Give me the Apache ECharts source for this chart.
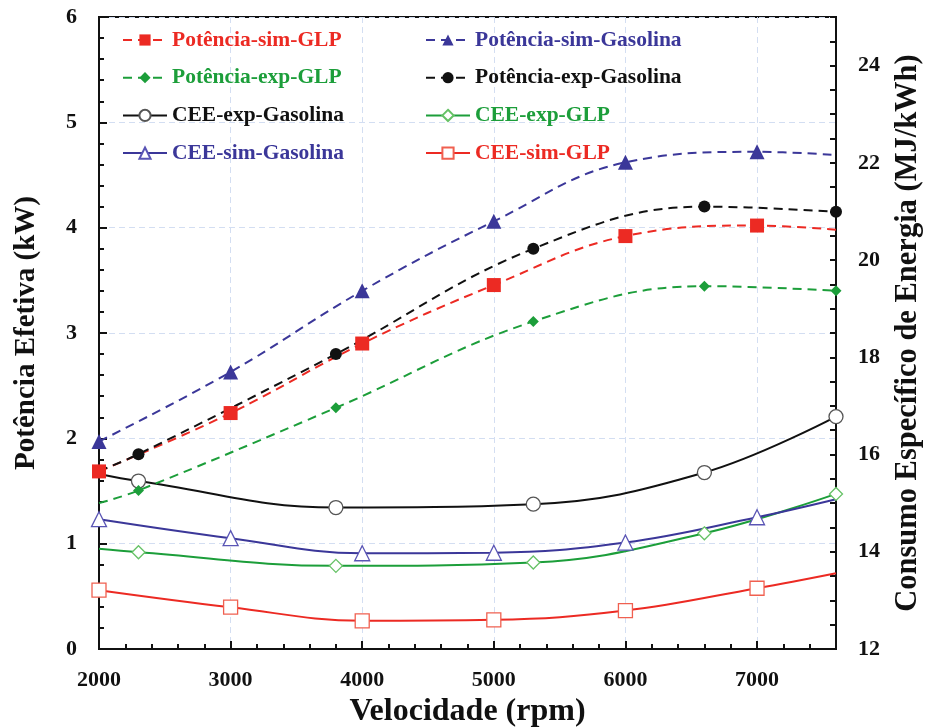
<!DOCTYPE html>
<html>
<head>
<meta charset="utf-8">
<script src="https://cdn.jsdelivr.net/npm/echarts@6/dist/echarts.min.js"></script>
<style>
html,body{margin:0;padding:0;background:#fff;}
#chart{width:926px;height:727px;}
</style>
</head>
<body>
<div id="chart"></div>
<script>
// ---- data ----
const rpmSim = [2000, 3000, 4000, 5000, 6000, 7000, 7600];
const rpmExp = [2000, 2300, 3800, 5300, 6600, 7600];

const potSimGLP = [1.686, 2.24, 2.90, 3.455, 3.92, 4.02, 3.98];
const potSimGasolina = [1.97, 2.63, 3.40, 4.06, 4.62, 4.72, 4.69];
const potExpGLP = [1.385, 1.505, 2.29, 3.11, 3.445, 3.40];
const potExpGasolina = [1.69, 1.85, 2.80, 3.80, 4.20, 4.15];

const ceeExpGasolina = [15.60, 15.455, 14.91, 14.98, 15.63, 16.78];
const ceeExpGLP = [14.06, 13.99, 13.71, 13.78, 14.38, 15.19];
const ceeSimGasolina = [14.67, 14.28, 13.97, 13.98, 14.19, 14.71, 15.08];
const ceeSimGLP = [13.21, 12.86, 12.58, 12.60, 12.79, 13.25, 13.56];

const xTicksMajor = [2000, 3000, 4000, 5000, 6000, 7000];
const leftTicks = [0, 1, 2, 3, 4, 5, 6];
const rightTicks = [12, 14, 16, 18, 20, 22, 24];

// ---- styles ----
const RED = '#ec2a23', BLUE = '#3b3799', GREEN = '#1c9e3a', BLACK = '#111111';
const FONT = '"Liberation Serif", "Times New Roman", serif';

// sim series: last point is curve extension without marker
// exp series: first point is curve start without marker
function build(xs, ys, noMarkIdx) {
  return xs.map((x, i) => {
    const d = { value: [x, ys[i]] };
    if (i === noMarkIdx) { d.symbol = 'none'; }
    return d;
  });
}

function mk(name, xs, ys, noMarkIdx, yIdx, color, dashed, symbol, size, fill, border) {
  return {
    name: name,
    type: 'line',
    xAxisIndex: 0,
    yAxisIndex: yIdx,
    smooth: 0.4,
    data: build(xs, ys, noMarkIdx),
    symbol: symbol,
    symbolSize: size,
    showAllSymbol: true,
    lineStyle: { color: color, width: 2, type: dashed ? [9, 6] : 'solid' },
    itemStyle: { color: fill, borderColor: border, borderWidth: fill === '#ffffff' ? 1.3 : 0 },
    z: dashed ? 3 : 2,
    emphasis: { disabled: true },
    animation: false
  };
}

const series = [
  mk('Potência-sim-GLP', rpmSim, potSimGLP, 6, 0, RED, true, 'rect', 14, RED, RED),
  mk('Potência-sim-Gasolina', rpmSim, potSimGasolina, 6, 0, BLUE, true, 'triangle', 15, BLUE, BLUE),
  mk('Potência-exp-GLP', rpmExp, potExpGLP, 0, 0, GREEN, true, 'diamond', 11, GREEN, GREEN),
  mk('Potência-exp-Gasolina', rpmExp, potExpGasolina, 0, 0, BLACK, true, 'circle', 12, BLACK, BLACK),
  mk('CEE-exp-Gasolina', rpmExp, ceeExpGasolina, 0, 1, BLACK, false, 'circle', 14, '#ffffff', '#555555'),
  mk('CEE-exp-GLP', rpmExp, ceeExpGLP, 0, 1, GREEN, false, 'diamond', 13, '#ffffff', '#66c266'),
  mk('CEE-sim-Gasolina', rpmSim, ceeSimGasolina, 6, 1, BLUE, false, 'triangle', 15, '#ffffff', '#5a55b5'),
  mk('CEE-sim-GLP', rpmSim, ceeSimGLP, 6, 1, RED, false, 'rect', 14, '#ffffff', '#f06050')
];

const colorOf = {};
series.forEach(s => colorOf[s.name] = s.lineStyle.color);

function legend(left, names) {
  return {
    orient: 'vertical',
    left: left,
    top: 29,
    padding: 0,
    itemGap: 15.7,
    itemWidth: 44,
    itemHeight: 14,
    selectedMode: false,
    textStyle: { fontFamily: FONT, fontWeight: 'bold', fontSize: 21.5, lineHeight: 22 },
    data: names.map(n => ({ name: n, textStyle: { color: colorOf[n] } }))
  };
}

const labelStyle = { fontFamily: FONT, fontWeight: 'bold', fontSize: 22, color: '#111' };
const nameStyle = { fontFamily: FONT, fontWeight: 'bold', fontSize: 29, color: '#111' };
const gridLine = { show: true, lineStyle: { color: '#d3def2', width: 1, type: [6, 4] } };

function isIn(list, v) { return list.some(t => Math.abs(t - v) < 1e-6); }

const option = {
  backgroundColor: '#ffffff',
  animation: false,
  grid: { left: 99, right: 90, top: 17, bottom: 78, containLabel: false, outerBoundsMode: 'none',
          show: true, borderColor: '#111', borderWidth: 2, backgroundColor: 'transparent' },
  legend: [
    legend(122, ['Potência-sim-GLP', 'Potência-exp-GLP', 'CEE-exp-Gasolina', 'CEE-sim-Gasolina']),
    legend(425, ['Potência-sim-Gasolina', 'Potência-exp-Gasolina', 'CEE-exp-GLP', 'CEE-sim-GLP'])
  ],
  xAxis: [
    {
      type: 'value', position: 'bottom', min: 2000, max: 7600, interval: 1000,
      name: 'Velocidade (rpm)', nameLocation: 'middle', nameGap: 45,
      nameTextStyle: { ...nameStyle, fontSize: 32 },
      axisLine: { show: true, lineStyle: { color: '#111', width: 2 } },
      axisTick: { show: true, inside: true, length: 8, lineStyle: { color: '#111', width: 2 } },
      axisLabel: { ...labelStyle, margin: 20, formatter: v => isIn(xTicksMajor, v) ? String(v) : '' },
      splitLine: gridLine
    },
    {
      type: 'value', position: 'bottom', min: 2000, max: 7600, interval: 200,
      axisLine: { show: false },
      axisTick: { show: true, inside: true, length: 5, lineStyle: { color: '#111', width: 2 } },
      axisLabel: { show: false },
      splitLine: { show: false }
    }
  ],
  yAxis: [
    {
      type: 'value', position: 'left', min: 0, max: 6, interval: 1,
      name: 'Potência Efetiva (kW)', nameLocation: 'middle', nameGap: 58, nameTextStyle: nameStyle,
      axisLine: { show: true, lineStyle: { color: '#111', width: 2 } },
      axisTick: { show: true, inside: true, length: 8, lineStyle: { color: '#111', width: 2 } },
      minorTick: { show: true, splitNumber: 5, length: 5, lineStyle: { color: '#111', width: 2 } },
      axisLabel: { ...labelStyle, margin: 22, formatter: v => isIn(leftTicks, v) ? String(v) : '' },
      splitLine: gridLine
    },
    {
      type: 'value', position: 'right', min: 12, max: 25, interval: 0.5,
      name: 'Consumo Específico de Energia (MJ/kWh)', nameLocation: 'middle', nameGap: 57,
      nameTextStyle: { ...nameStyle, fontSize: 30.5 },
      axisLine: { show: true, lineStyle: { color: '#111', width: 2 } },
      axisTick: { show: true, inside: true, length: 6, lineStyle: { color: '#111', width: 2 } },
      axisLabel: { ...labelStyle, margin: 22, formatter: v => isIn(rightTicks, v) ? String(Math.round(v)) : '' },
      splitLine: { show: false }
    }
  ],
  series: series
};

const chart = echarts.init(document.getElementById('chart'), null, { renderer: 'canvas' });
chart.setOption(option);
</script>
</body>
</html>
